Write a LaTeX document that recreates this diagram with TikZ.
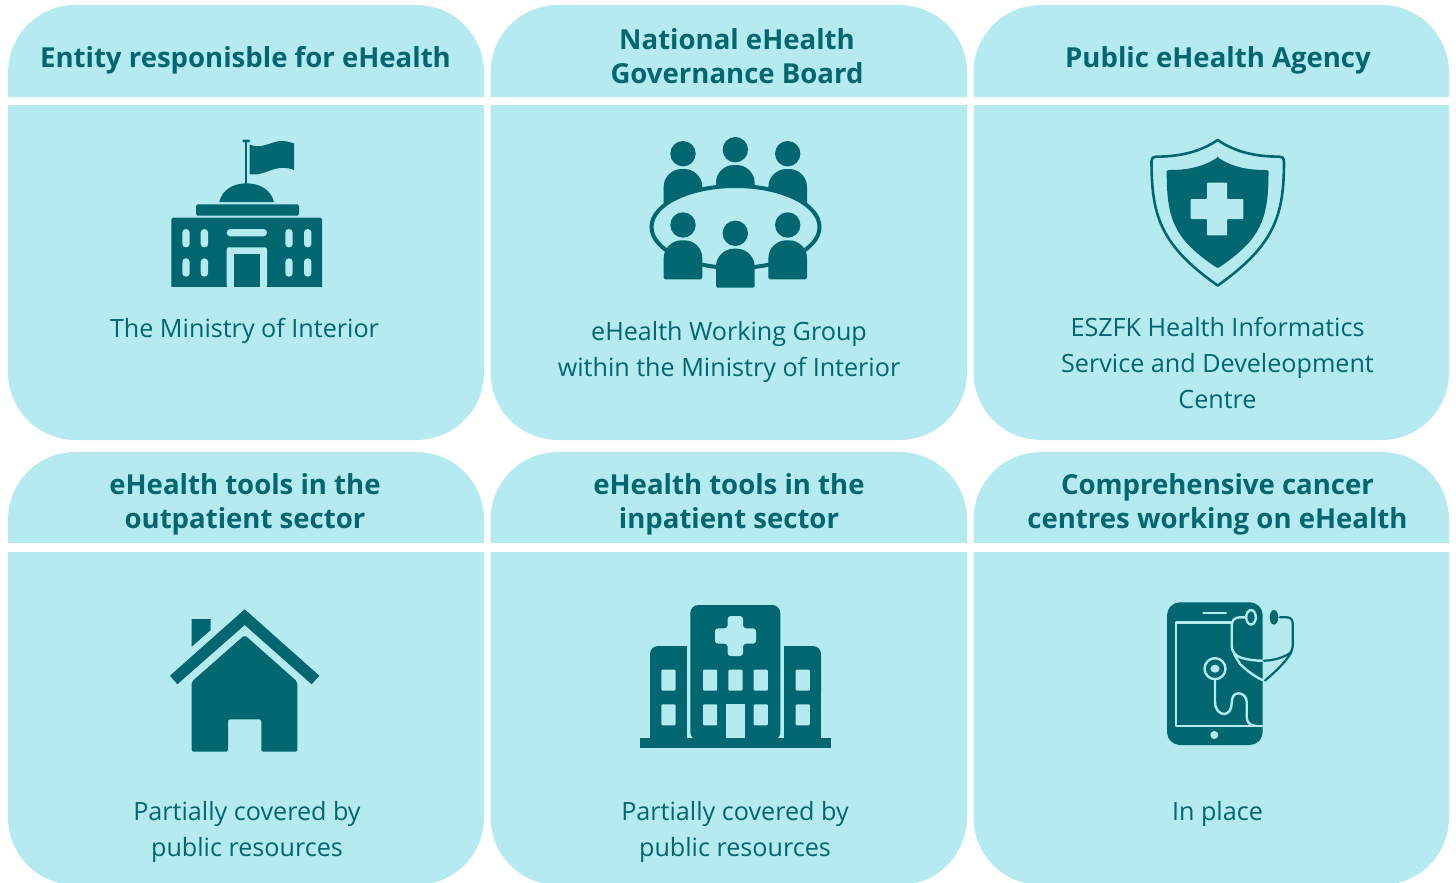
\documentclass[tikz,border=0pt]{standalone}
\usepackage{fontspec}
\setmainfont{Open Sans}
\definecolor{panelc}{HTML}{B5EAF0}
\definecolor{darkc}{HTML}{00666F}
\tikzset{
  x=1pt,y=-1pt,
  panel/.style={fill=panelc},
  ink/.style={fill=darkc},
  lite/.style={fill=panelc},
  inkline/.style={draw=darkc,line width=2.6pt,line cap=round,line join=round},
  liteline/.style={draw=panelc,line width=2.4pt,line cap=round,line join=round},
  headtext/.style={text=darkc,align=center,font=\fontsize{27.55}{34}\selectfont\bfseries,inner sep=0pt},
  bodytext/.style={text=darkc,align=center,font=\fontsize{25.15}{36}\selectfont,inner sep=0pt},
}
% rounded-top header panel: x1,y1,x2,y2
\newcommand{\toppanel}[4]{\fill[panel] (#1,#4) -- (#1,#2+68) .. controls (#1,#2+30) and (#1+30,#2) .. (#1+68,#2) -- (#3-68,#2) .. controls (#3-30,#2) and (#3,#2+30) .. (#3,#2+68) -- (#3,#4) -- cycle;}
% rounded-bottom body panel
\newcommand{\botpanel}[4]{\fill[panel] (#1,#2) -- (#1,#4-68) .. controls (#1,#4-30) and (#1+30,#4) .. (#1+68,#4) -- (#3-68,#4) .. controls (#3-30,#4) and (#3,#4-30) .. (#3,#4-68) -- (#3,#2) -- cycle;}
\newcommand{\person}[3]{% cx, headcy, bodytop, bottom implied by #3+39
  \fill[ink] (#1,#2) circle (12.7pt);
  \fill[ink,rounded corners=1.5pt] (#1-19.3,#3+39) -- (#1-19.3,#3+19) .. controls (#1-19.3,#3+8) and (#1-11,#3) .. (#1,#3) .. controls (#1+11,#3) and (#1+19.3,#3+8) .. (#1+19.3,#3+19) -- (#1+19.3,#3+39) -- cycle;}
\begin{document}
\begin{tikzpicture}
\useasboundingbox (0,0) rectangle (1456,883);
\clip (0,0) rectangle (1456,883);
% panels
\toppanel{8}{5}{484}{97}
\toppanel{490.5}{5}{967}{97}
\toppanel{973.5}{5}{1449}{97}
\botpanel{8}{105}{484}{440}
\botpanel{490.5}{105}{967}{440}
\botpanel{973.5}{105}{1449}{440}
\toppanel{8}{452}{484}{543}
\toppanel{490.5}{452}{967}{543}
\toppanel{973.5}{452}{1449}{543}
\botpanel{8}{552}{484}{885}
\botpanel{490.5}{552}{967}{885}
\botpanel{973.5}{552}{1449}{885}
% header texts
\node[headtext] (h1) at (245.5,60) {Entity responisble for eHealth};
\node[headtext] (h2) at (737,56) {National eHealth\\Governance Board};
\node[headtext] (h3) at (1218,60) {Public eHealth Agency};
\node[headtext] (h4) at (245,504) {eHealth tools in the\\outpatient sector};
\node[headtext] (h5) at (729,504) {eHealth tools in the\\inpatient sector};
\node[headtext] (h6) at (1217.5,504) {Comprehensive cancer\\centres working on eHealth};
% body texts
\node[bodytext] (b1) at (244.5,331) {The Ministry of Interior};
\node[bodytext] (b2) at (729,352) {eHealth Working Group\\within the Ministry of Interior};
\node[bodytext] (b3) at (1217.5,363) {ESZFK Health Informatics\\Service and Develeopment\\Centre};
\node[bodytext] (b4) at (247,832) {Partially covered by\\public resources};
\node[bodytext] (b5) at (735,832) {Partially covered by\\public resources};
\node[bodytext] (b6) at (1217.5,814) {In place};
% --- government building
\fill[ink,rounded corners=1pt] (242.3,139.7) rectangle (250,142.3);
\fill[ink] (244.8,141) rectangle (247,184);
\fill[ink] (249.5,144.5) .. controls (261,150) and (272,141) .. (281,141) .. controls (286,141) and (290,142) .. (294,143.5) -- (294,170) .. controls (289,168) and (285,167.5) .. (280,168) .. controls (270,169) and (260,176.5) .. (249.5,174) -- cycle;
\fill[ink] (219.3,202) .. controls (222,190) and (233,183.3) .. (246.5,183.3) .. controls (260,183.3) and (271,190) .. (274,202) -- cycle;
\fill[ink,rounded corners=1.5pt] (196,215.7) -- (196,204.3) -- (299,204.3) -- (299,215.7) -- cycle;
\fill[ink,rounded corners=1.5pt] (171.3,290) -- (171.3,217.7) -- (322,217.7) -- (322,290) -- cycle;
\fill[panelc] (165,287) rectangle (330,292);
\foreach \wx in {182.3,200.7,285.3,304}{
  \foreach \wy in {229,258.3}{
    \fill[lite,rounded corners=3.6pt] (\wx,\wy) rectangle (\wx+7.4,\wy+18.4);
  }
}
\fill[lite,rounded corners=3.6pt] (226.7,229) rectangle (267,236.3);
\fill[lite,rounded corners=2pt] (226.7,287.5) -- (226.7,247.3) -- (267,247.3) -- (267,287.5) -- cycle;
\fill[ink] (234,254.3) rectangle (260,287);
% --- board meeting
\person{683}{153.7}{169}
\person{735.3}{149.7}{165}
\person{787.7}{153.7}{169}
\draw[draw=darkc,line width=4pt,fill=panelc] (735.5,227) ellipse (84pt and 41pt);
\person{683}{225}{240.3}
\person{735.3}{233.3}{248.7}
\person{787.7}{225}{240.3}
% --- shield
\draw[inkline] (1217.7,140) .. controls (1200,152) and (1180,156.5) .. (1156,156.7) .. controls (1153,156.7) and (1151.5,158) .. (1151.5,161) .. controls (1151.5,215) and (1160,245) .. (1217.7,285.5) .. controls (1275,245) and (1284,215) .. (1284,161) .. controls (1284,158) and (1282.5,156.7) .. (1279.5,156.7) .. controls (1255,156.5) and (1235,152) .. (1217.7,140) -- cycle;
\fill[ink,rounded corners=1pt] (1217.7,157.3) .. controls (1203,167) and (1187,170) .. (1169,170) .. controls (1167.5,170) and (1166.7,171) .. (1166.7,172.5) .. controls (1166.7,220) and (1175,240) .. (1217.7,268.3) .. controls (1260,240) and (1268.5,220) .. (1268.5,172.5) .. controls (1268.5,171) and (1267.5,170) .. (1266,170) .. controls (1248,170) and (1232,167) .. (1217.7,157.3) -- cycle;
\fill[lite,rounded corners=0.8pt] (1207,182.7) -- (1227,182.7) -- (1227,199) -- (1243.3,199) -- (1243.3,219) -- (1227,219) -- (1227,235.3) -- (1207,235.3) -- (1207,219) -- (1190.7,219) -- (1190.7,199) -- (1207,199) -- cycle;
% --- house
\fill[ink] (244.7,609.3) -- (319.3,675.7) -- (311.7,684.3) -- (244.7,625) -- (177.3,684.3) -- (170,675.7) -- cycle;
\fill[ink] (191.7,619) -- (210.7,619) -- (210.7,630) -- (191.7,646.7) -- cycle;
\fill[ink,rounded corners=2pt] (244.7,635) -- (297.3,681.7) -- (297.3,751.7) -- (261.3,751.7) -- (261.3,719.3) -- (228,719.3) -- (228,751.7) -- (191.7,751.7) -- (191.7,681.7) -- cycle;
% --- hospital
\fill[ink] (640,738) rectangle (830.7,748);
\fill[ink,rounded corners=8pt] (690.3,740) -- (690.3,605) -- (780.3,605) -- (780.3,740) -- cycle;
\fill[ink,rounded corners=8pt] (650,700) -- (650,646) -- (686.7,646) -- (686.7,700) -- cycle;
\fill[ink] (672,646) rectangle (686.7,700);
\fill[ink] (650,660) rectangle (686.7,740);
\fill[ink,rounded corners=8pt] (784,646) -- (821,646) -- (821,700) -- (784,700) -- cycle;
\fill[ink] (784,646) rectangle (800,700);
\fill[ink] (784,660) rectangle (821,740);
\fill[lite,rounded corners=3pt] (727.7,616) -- (743,616) -- (743,628.3) -- (756,628.3) -- (756,643.7) -- (743,643.7) -- (743,656) -- (727.7,656) -- (727.7,643.7) -- (715,643.7) -- (715,628.3) -- (727.7,628.3) -- cycle;
\foreach \wx in {661.3,703,728.3,753.7,795.7}{
  \fill[lite,rounded corners=1pt] (\wx,669.7) rectangle (\wx+14.2,690.7);
}
\foreach \wx in {661.3,703,753.7,795.7}{
  \fill[lite,rounded corners=1pt] (\wx,704.3) rectangle (\wx+14.2,725.3);
}
\fill[lite] (726,704.3) rectangle (744.7,738);
% --- tablet and stethoscope
\fill[ink,rounded corners=13pt] (1167,602.3) rectangle (1262.7,745);
\draw[liteline] (1231.7,622.3) -- (1175.7,622.3) -- (1175.7,725.7) -- (1262,725.7);
\draw[liteline] (1203.3,612.7) -- (1226,612.7);
\fill[lite] (1214.3,735) circle (4pt);
\draw[liteline] (1215,668.7) circle (10.5pt);
\fill[lite] (1215,668.7) ellipse (4.7pt and 4pt);
\draw[liteline] (1215,679.5) -- (1215,702) .. controls (1215,710) and (1220,714) .. (1224,714) .. controls (1228,714) and (1231.7,710) .. (1231.7,703) .. controls (1231.7,697) and (1234,693.3) .. (1238.5,693.3) .. controls (1243,693.3) and (1246.7,697) .. (1246.7,702) -- (1246.7,717) .. controls (1246.7,722) and (1250,725.7) .. (1255,725.7);
\draw[liteline] (1246,617.3) -- (1240,617.3) .. controls (1234,617.3) and (1231.7,621) .. (1231.7,626) -- (1231.7,645) .. controls (1231.7,653) and (1236,656) .. (1242,658) .. controls (1249,660) and (1256,660.7) .. (1262.2,660.7);
\draw[liteline] (1234,654) -- (1240,664) .. controls (1246,670) and (1254,676) .. (1262.2,680);
\draw[liteline,fill=darkc] (1251,617.3) ellipse (4.8pt and 7.2pt);
\fill[ink] (1274,617.3) ellipse (4.3pt and 7.3pt);
\draw[inkline,line width=2.2pt] (1280,617.3) -- (1287,617.3) .. controls (1291,617.3) and (1292.7,620) .. (1292.7,624) -- (1292.7,647) .. controls (1292.7,650) and (1291,653) .. (1287,655) .. controls (1280,658.5) and (1272,660.5) .. (1264,660.7);
\draw[inkline,line width=2.2pt] (1291.5,652) .. controls (1285,663) and (1275,672) .. (1265,680.5);
\end{tikzpicture}
\end{document}
